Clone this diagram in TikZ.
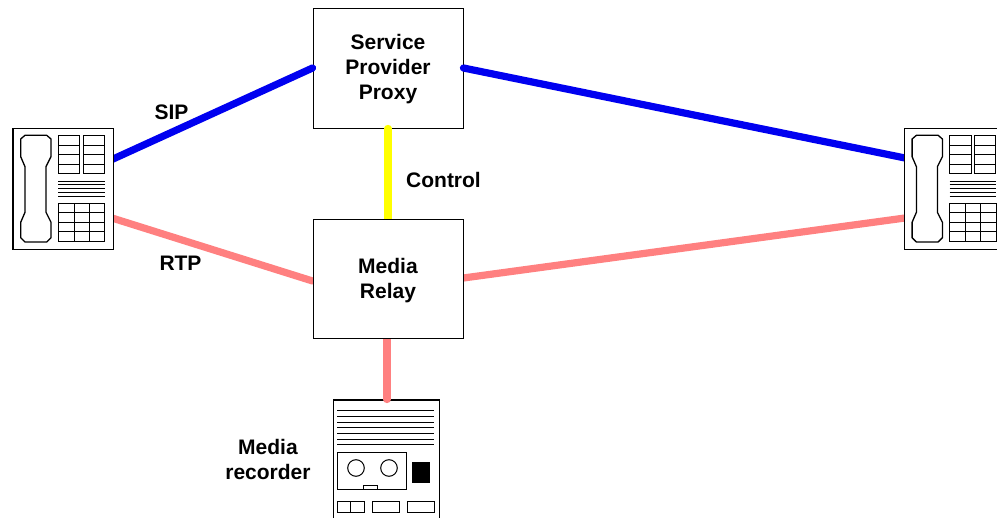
\documentclass[tikz,border=0pt]{standalone}
\usepackage{fontspec}
\setmainfont{Liberation Sans}
\definecolor{sipblue}{RGB}{0,0,240}
\definecolor{rtppink}{RGB}{255,128,128}
\definecolor{ctlyellow}{RGB}{255,255,0}
\pgfdeclarelayer{lower}
\pgfdeclarelayer{links}
\pgfsetlayers{lower,links,main}
\tikzset{
  x=1pt,y=-1pt,
  boxnode/.style={draw=black,line width=0.9pt,fill=white,inner sep=0pt},
  lbl/.style={inner sep=0pt,align=center,font=\fontsize{21}{25}\selectfont\bfseries},
  thin line/.style={draw=black,line width=1pt},
  link/.style={line width=7.2pt,line cap=round},
  pics/phone/.style={code={
    \node[draw=black,line width=1.2pt,fill=white,minimum width=100.5pt,minimum height=120.5pt,inner sep=0pt,anchor=north west] (-body) at (12.3,128.3) {};
    \draw[line width=1.3pt,line join=round] (25,135.3)--(46.7,135.3)--(51,139)--(51,156.7)--(46,166.7)--(46,212.3)--(51,222.3)--(51,237.7)--(46.7,242)--(25,242)--(20.7,237.7)--(20.7,222.3)--(25,212.3)--(25,166.7)--(20.7,156.7)--(20.7,139)--cycle;
    \draw[thin line] (58.3,135.7) rectangle (79.7,173.7);
    \draw[thin line] (83.3,135.7) rectangle (104.5,173.7);
    \foreach \yy in {145.3,155,164.3} {\draw[thin line] (58.3,\yy)--(79.7,\yy) (83.3,\yy)--(104.5,\yy);}
    \foreach \yy in {181.3,185,188.7,192.7,196.3} {\draw[thin line] (58.3,\yy)--(104.7,\yy);}
    \draw[thin line] (58.3,203.3) rectangle (104.7,241.7);
    \foreach \xx in {74,89.3} {\draw[thin line] (\xx,203.3)--(\xx,241.7);}
    \foreach \yy in {213,222.7,232} {\draw[thin line] (58.3,\yy)--(104.7,\yy);}
  }}
}
\begin{document}
\begin{tikzpicture}[x=1pt,y=-1pt]
\useasboundingbox (0,0) rectangle (997,518);
\clip (0,0) rectangle (997,518);
\begin{pgfonlayer}{lower}
\fill[white] (0,0) rectangle (997,518);
\node[boxnode,minimum width=150pt,minimum height=120pt] (proxy) at (388,68) {};
% recorder
\node[draw=black,line width=1.1pt,fill=white,minimum width=105.5pt,minimum height=130pt,inner sep=0pt,anchor=north west] (recorder) at (333,399.5) {};
\foreach \yy in {411,417,422.3,427.7,433.3,439.3,445} {\draw[thin line] (337.3,\yy)--(434,\yy);}
\draw[thin line] (337.3,452.3) rectangle (406.3,490);
\draw[thin line] (356,468) circle (8.3);
\draw[thin line] (389,468) circle (8.3);
\draw[thin line] (363.7,490) -- (363.7,486) -- (377.3,486) -- (377.3,490);
\fill[black] (411.7,461.7) rectangle (430,482.7);
\draw[thin line] (337.3,501.3) rectangle (364,512.7);
\draw[thin line] (350.7,501.3) -- (350.7,512.7);
\draw[thin line] (372.3,501.3) rectangle (399.3,512.7);
\draw[thin line] (407.7,501.3) rectangle (434.3,512.7);
\end{pgfonlayer}
% upper boxes
\node[boxnode,minimum width=150pt,minimum height=119pt] (relay) at (388,278.5) {};
\pic (lphone) at (0,0) {phone};
\pic (rphone) at (891.4,0) {phone};
% ports
\coordinate (lsip) at (112,159.5);
\coordinate (lrtp) at (112,218);
\coordinate (rsip) at (905,158);
\coordinate (rrtp) at (905,218);
\coordinate (relayw) at (relay.west |- 0,281);
\coordinate (relaye) at (relay.east |- 0,278);
\coordinate (relays) at (relay.south -| 387,0);
\coordinate (rectop) at (recorder.north -| 387,0);
% connectors
\begin{pgfonlayer}{links}
\draw[link,sipblue] (lsip) -- (proxy.west);
\draw[link,sipblue] (proxy.east) -- (rsip);
\draw[link,rtppink] (lrtp) -- (relayw);
\draw[link,rtppink] (relaye) -- (rrtp);
\draw[link,ctlyellow] (proxy.south) -- (relay.north);
\draw[link,rtppink] (relays) -- (rectop);
\end{pgfonlayer}
% labels
\node[lbl] (proxytext) at (388,69.5) {Service\\Provider\\Proxy};
\node[lbl] (relaytext) at (388,281) {Media\\Relay};
\node[lbl] (sip) at (171.5,112.5) {SIP};
\node[lbl] (rtp) at (180.5,263.5) {RTP};
\node[lbl] (control) at (443.5,180) {Control};
\node[lbl] (mrec) at (268,459.5) {Media\\recorder};
\end{tikzpicture}
\end{document}
